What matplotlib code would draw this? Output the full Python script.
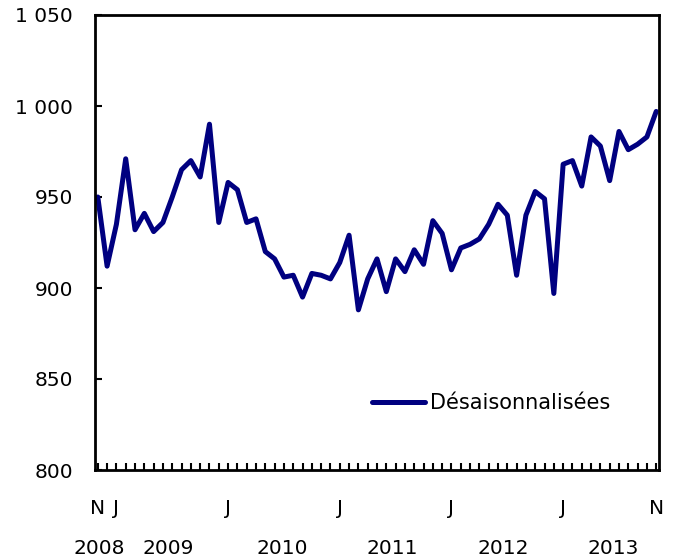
import matplotlib
matplotlib.use("Agg")
import matplotlib.pyplot as plt
from matplotlib.ticker import FixedLocator, FuncFormatter
import matplotlib.transforms as mtransforms

# Monthly values, Nov 2008 .. Nov 2013 (seasonally adjusted)
values = [
    950, 912, 935, 971, 932, 941, 931, 936, 950, 965, 970, 961, 990,   # Nov08-Nov09
    936, 958, 954, 936, 938, 920, 916, 906, 907, 895, 908, 907, 905,   # Dec09-Dec10
    914, 929, 888, 905, 916, 898, 916, 909, 921, 913, 937, 930,        # Jan11-Dec11
    910, 922, 924, 927, 935, 946, 940, 907, 940, 953, 949, 897,        # Jan12-Dec12
    968, 970, 956, 983, 978, 959, 986, 976, 979, 983, 997,             # Jan13-Nov13
]
series_label = "Désaisonnalisées"
month_tick_idx = [0, 2, 14, 26, 38, 50, 60]
month_tick_labels = ["N", "J", "J", "J", "J", "J", "N"]
year_labels = ["2008", "2009", "2010", "2011", "2012", "2013"]
year_centers = [0.2, 7.6, 19.8, 31.6, 43.6, 55.4]
y_ticks = [800, 850, 900, 950, 1000, 1050]

plt.rcParams['font.family'] = ['DejaVu Sans']

fig = plt.figure(figsize=(6.78, 5.59), dpi=100)
ax = fig.add_axes([95/678, 1 - 470/559, (659 - 95)/678, (470 - 15)/559])

x = list(range(len(values)))
ax.plot(x, values, color="#000080", lw=3.6, solid_joinstyle="round",
        solid_capstyle="round", label=series_label)

ax.set_xlim(-0.3, 60.3)
ax.set_ylim(800, 1050)

for s in ax.spines.values():
    s.set_linewidth(2)
    s.set_color("black")

ax.set_yticks(y_ticks)
ax.yaxis.set_major_formatter(FuncFormatter(
    lambda v, p: f"{int(v):,}".replace(",", " ")))
ax.tick_params(axis="y", direction="in", length=5, width=1.5,
               labelsize=14.5, pad=16)

ax.set_xticks(month_tick_idx)
ax.set_xticklabels(month_tick_labels)
ax.xaxis.set_minor_locator(FixedLocator(x))
ax.tick_params(axis="x", which="both", direction="in", length=5, width=1.5,
               labelsize=14.5, pad=21)

trans = mtransforms.blended_transform_factory(ax.transData, ax.transAxes)
for yc, lab in zip(year_centers, year_labels):
    ax.text(yc, -78/455, lab, transform=trans, ha="center", va="center",
            fontsize=14.5)

leg = ax.legend(loc="center left", bbox_to_anchor=(0.491, 0.147),
                frameon=False, fontsize=15, handlelength=2.55,
                handletextpad=0.25, borderpad=0, borderaxespad=0)

fig.savefig("out.png", dpi=100)
